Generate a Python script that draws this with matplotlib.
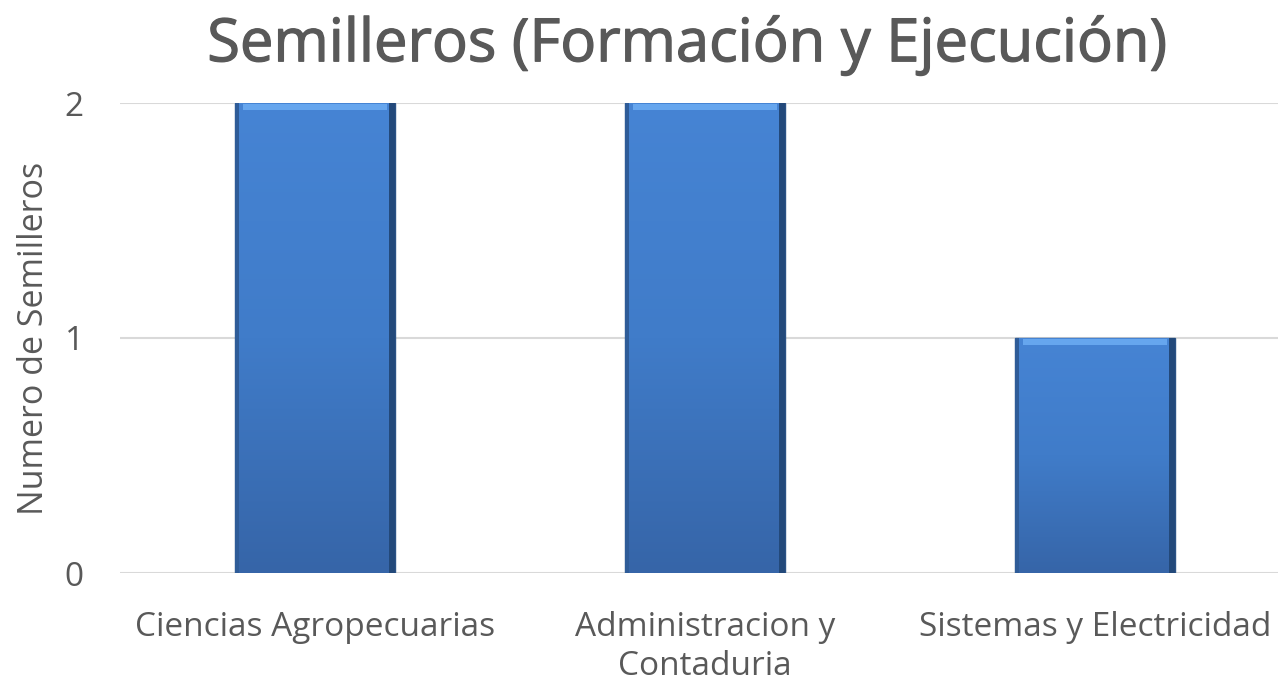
import matplotlib
matplotlib.use("Agg")
import matplotlib.pyplot as plt
import matplotlib.patheffects as pe
import numpy as np
from matplotlib.colors import LinearSegmentedColormap

categories = ["Ciencias Agropecuarias", "Administracion y\nContaduria", "Sistemas y Electricidad"]
values = [2, 2, 1]
y_ticks = [0, 1, 2]
title = "Semilleros (Formación y Ejecución)"
ylabel = "Numero de Semilleros"

plt.rcParams['font.family'] = ['Open Sans', 'DejaVu Sans']
W, H = 1278, 689
fig = plt.figure(figsize=(W / 100, H / 100), dpi=100)
ax = fig.add_axes([120 / W, 116 / H, 1170 / W, 470 / H])

x = np.arange(len(categories))
bars = ax.bar(x, values, width=0.41, color="#3F78C4", edgecolor="#2B5386", linewidth=1.0, zorder=2)

cmap = LinearSegmentedColormap.from_list("g", ["#3665A8", "#407CC9", "#4684D4"])
grad = np.linspace(0, 1, 256).reshape(-1, 1)
for b in bars:
    x0, y0 = b.get_x(), b.get_y()
    w, h = b.get_width(), b.get_height()
    im = ax.imshow(grad, extent=[x0, x0 + w, y0, y0 + h], origin="lower", aspect="auto",
                   cmap=cmap, zorder=2.5)
    im.set_clip_path(b)
    ax.add_patch(plt.Rectangle((x0 + w * 0.05, y0 + h - 0.03), w * 0.90, 0.026,
                               color="#66A6EE", zorder=2.6, lw=0))
    ax.add_patch(plt.Rectangle((x0 + w * 0.96, y0), w * 0.04, h, color="#23497A", zorder=2.6, lw=0))
    ax.add_patch(plt.Rectangle((x0, y0), w * 0.025, h, color="#2F5C98", zorder=2.6, lw=0))

ax.set_xlim(-0.5, 2.5)
ax.set_ylim(0, 2)
ax.set_yticks(y_ticks)
ax.set_yticklabels([str(t) for t in y_ticks])
ax.set_xticks(x)
ax.set_xticklabels(categories, linespacing=1.25)
ax.yaxis.grid(True, color="#D9D9D9", linewidth=1.5, zorder=0)
ax.set_axisbelow(True)
for s in ax.spines.values():
    s.set_visible(False)
ax.tick_params(axis="both", length=0, colors="#595959", labelsize=24)
ax.tick_params(axis="y", pad=26)
ax.tick_params(axis="x", pad=27)
ax.set_ylabel(ylabel, color="#595959", fontsize=24.5, labelpad=10)

fig.text(688 / W, 1 - 45 / H, title, ha="center", va="center", fontsize=43,
         color="#595959", fontweight="normal",
         path_effects=[pe.withStroke(linewidth=0.9, foreground="#595959")])

fig.savefig("out.png", dpi=100, facecolor="white")
